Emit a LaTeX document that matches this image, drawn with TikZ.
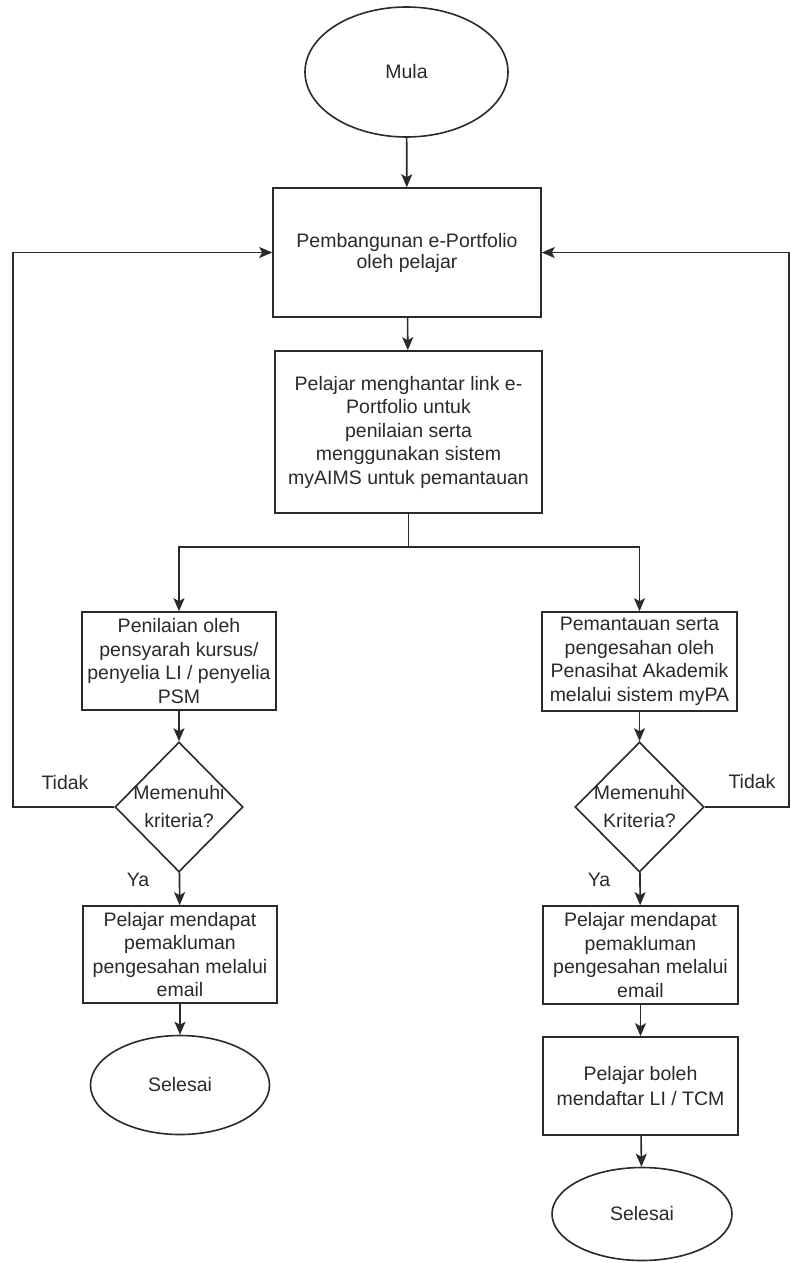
\documentclass[tikz,border=0pt]{standalone}
\usepackage{fontspec}
\setmainfont{Liberation Sans}
\usetikzlibrary{shapes.geometric,arrows.meta}
\definecolor{ink}{HTML}{2A2A2A}
\begin{document}
\begin{tikzpicture}[x=1pt,y=-1pt,
  every node/.style={font=\fontsize{19.5}{23.5}\selectfont, text=ink},
  box/.style={draw=ink, line width=1.6pt, rectangle, align=center, inner sep=0pt},
  term/.style={draw=ink, line width=1.6pt, ellipse, inner sep=0pt},
  dec/.style={draw=ink, line width=1.6pt, diamond, inner sep=0pt},
  conn/.style={draw=ink, line width=1.6pt},
  arr/.style={conn, -{Stealth[length=13pt,width=11pt,inset=3pt]}},
  lbl/.style={align=center, inner sep=0pt}
]
\useasboundingbox (0,0) rectangle (790,1263);
\fill[white] (0,0) rectangle (790,1263);

\node[term, minimum width=203pt, minimum height=130pt] (mula) at (406.5,72) {Mula};
\node[box, minimum width=268pt, minimum height=129pt, font=\fontsize{19.5}{21}\selectfont] (b1) at (407,252.5) {Pembangunan e-Portfolio\\oleh pelajar};
\node[box, minimum width=267pt, minimum height=162pt] (b2) at (408.5,432) {Pelajar menghantar link e-\\Portfolio untuk\\penilaian serta\\menggunakan sistem\\myAIMS untuk pemantauan};

\node[box, minimum width=194pt, minimum height=98pt] (pen) at (179,661) {Penilaian oleh\\pensyarah kursus/\\penyelia LI / penyelia\\PSM};
\node[box, minimum width=195pt, minimum height=99pt] (pem) at (639.5,661.5) {Pemantauan serta\\pengesahan oleh\\Penasihat Akademik\\melalui sistem myPA};

\node[dec, minimum width=128pt, minimum height=130pt] (dL) at (179,807) {};
\node[lbl, font=\fontsize{19.5}{28}\selectfont] (dLt) at (dL.center) {Memenuhi\\kriteria?};
\node[dec, minimum width=129pt, minimum height=130pt] (dR) at (639.5,807) {};
\node[lbl, font=\fontsize{19.5}{28}\selectfont] (dRt) at (dR.center) {Memenuhi\\Kriteria?};

\node[box, minimum width=194pt, minimum height=97pt] (eL) at (180,954.5) {Pelajar mendapat\\pemakluman\\pengesahan melalui\\email};
\node[box, minimum width=195pt, minimum height=98pt] (eR) at (640.5,955) {Pelajar mendapat\\pemakluman\\pengesahan melalui\\email};
\node[box, minimum width=195pt, minimum height=98pt, font=\fontsize{19.5}{25}\selectfont] (bol) at (640.5,1086) {Pelajar boleh\\mendaftar LI / TCM};

\node[term, minimum width=179pt, minimum height=99pt] (selL) at (180,1085) {Selesai};
\node[term, minimum width=180pt, minimum height=93pt] (selR) at (642,1214) {Selesai};

\node[lbl] (tL) at (65,783) {Tidak};
\node[lbl] (tR) at (752,782) {Tidak};
\node[lbl] (yL) at (138,880) {Ya};
\node[lbl] (yR) at (599,880) {Ya};

\coordinate (split) at (408.5,547);
\coordinate (fbL) at (13,807);
\coordinate (fbR) at (789,807);

\draw[arr] (mula) -- (b1);
\draw[arr] (b1) -- (b2);
\draw[conn] (b2.south) -- (split);
\draw[arr] (split) -| (pen.north);
\draw[arr] (split) -| (pem.north);
\draw[arr] (pen) -- (dL);
\draw[arr] (pem) -- (dR);
\draw[arr] (dL) -- (eL);
\draw[arr] (dR) -- (eR);
\draw[arr] (eL) -- (selL);
\draw[arr] (eR) -- (bol);
\draw[arr] (bol) -- (selR);
\draw[arr] (dL.west) -- (fbL) |- (b1.west);
\draw[arr] (dR.east) -- (fbR) |- (b1.east);
\end{tikzpicture}
\end{document}
